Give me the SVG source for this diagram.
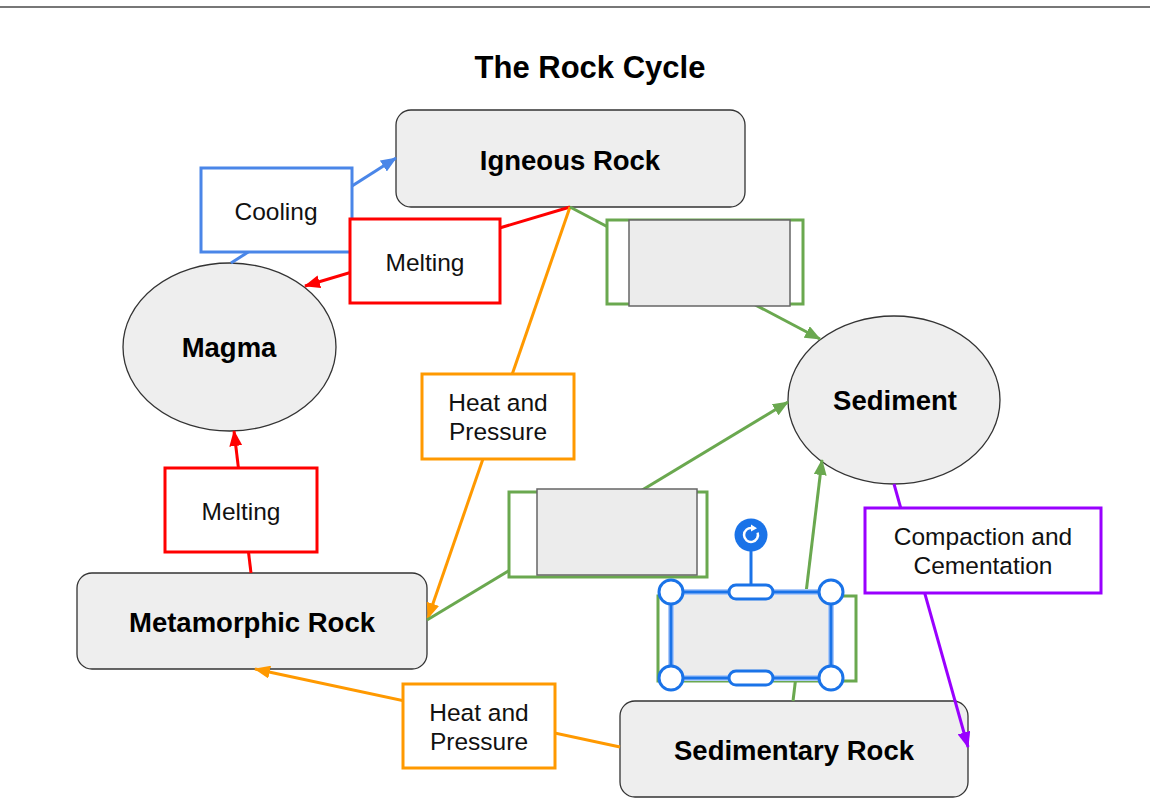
<svg xmlns="http://www.w3.org/2000/svg" width="1150" height="808" viewBox="0 0 1150 808">
<style>
  .node { fill: #eeeeee; stroke: #333333; stroke-width: 1.3; }
  .ntext { font-family: "Liberation Sans", Arial, sans-serif; font-weight: bold; font-size: 27.5px; fill: #000; text-anchor: middle; }
  .ltext { font-family: "Liberation Sans", Arial, sans-serif; font-size: 24.5px; fill: #111; text-anchor: middle; }
  .lbl { fill: #ffffff; stroke-width: 3; }
  .conn { fill: none; stroke-width: 3; }
  .inner { fill: #ececec; stroke: #666666; stroke-width: 1.5; }
  .handle { fill: #ffffff; stroke: #1a73e8; stroke-width: 3; }
</style>
<defs>
  <marker id="aBlue" markerUnits="userSpaceOnUse" markerWidth="16" markerHeight="13" refX="15" refY="6.5" orient="auto"><path d="M0,0 L16,6.5 L0,13 z" fill="#4a86e8"/></marker>
  <marker id="aRed" markerUnits="userSpaceOnUse" markerWidth="16" markerHeight="13" refX="15" refY="6.5" orient="auto"><path d="M0,0 L16,6.5 L0,13 z" fill="#ff0000"/></marker>
  <marker id="aOrange" markerUnits="userSpaceOnUse" markerWidth="16" markerHeight="13" refX="15" refY="6.5" orient="auto"><path d="M0,0 L16,6.5 L0,13 z" fill="#ff9900"/></marker>
  <marker id="aGreen" markerUnits="userSpaceOnUse" markerWidth="16" markerHeight="13" refX="15" refY="6.5" orient="auto"><path d="M0,0 L16,6.5 L0,13 z" fill="#6aa84f"/></marker>
  <marker id="aPurple" markerUnits="userSpaceOnUse" markerWidth="16" markerHeight="13" refX="15" refY="6.5" orient="auto"><path d="M0,0 L16,6.5 L0,13 z" fill="#9900ff"/></marker>
</defs>
<rect x="0" y="0" width="1150" height="808" fill="#ffffff"/>
<rect x="0" y="6" width="1150" height="2" fill="#777777"/>
<text x="590" y="78" font-family="Liberation Sans, Arial, sans-serif" font-weight="bold" font-size="31" text-anchor="middle" fill="#000">The Rock Cycle</text>

<g id="igneous">
  <rect class="node" x="396" y="110" width="349" height="97" rx="15"/>
  <text class="ntext" x="570" y="170">Igneous Rock</text>
</g>
<g id="magma">
  <ellipse class="node" cx="229.5" cy="347" rx="106.5" ry="84"/>
  <text class="ntext" x="229" y="357">Magma</text>
</g>
<g id="sediment">
  <ellipse class="node" cx="894" cy="400" rx="106" ry="84"/>
  <text class="ntext" x="895" y="410">Sediment</text>
</g>
<g id="metamorphic">
  <rect class="node" x="77" y="573" width="350" height="96" rx="15"/>
  <text class="ntext" x="252" y="632">Metamorphic Rock</text>
</g>
<g id="sedimentary">
  <rect class="node" x="620" y="701" width="348" height="96" rx="15"/>
  <text class="ntext" x="794" y="760">Sedimentary Rock</text>
</g>

<g id="connectors">
  <line class="conn" x1="231" y1="263" x2="396" y2="158" stroke="#4a86e8" marker-end="url(#aBlue)"/>
  <line class="conn" x1="570" y1="207" x2="305" y2="286" stroke="#ff0000" marker-end="url(#aRed)"/>
  <line class="conn" x1="570" y1="207" x2="428" y2="618" stroke="#ff9900" marker-end="url(#aOrange)"/>
  <line class="conn" x1="570" y1="207" x2="820" y2="339" stroke="#6aa84f" marker-end="url(#aGreen)"/>
  <line class="conn" x1="427" y1="620" x2="788" y2="402" stroke="#6aa84f" marker-end="url(#aGreen)"/>
  <line class="conn" x1="793" y1="701" x2="822" y2="460" stroke="#6aa84f" marker-end="url(#aGreen)"/>
  <line class="conn" x1="894" y1="484" x2="968" y2="747" stroke="#9900ff" marker-end="url(#aPurple)"/>
  <line class="conn" x1="620" y1="747" x2="255" y2="669" stroke="#ff9900" marker-end="url(#aOrange)"/>
  <line class="conn" x1="251" y1="573" x2="234" y2="431" stroke="#ff0000" marker-end="url(#aRed)"/>
</g>

<g id="label-cooling">
  <rect class="lbl" x="201" y="168" width="151" height="84" stroke="#4a86e8"/>
  <text class="ltext" x="276" y="220">Cooling</text>
</g>
<g id="label-melting-top">
  <rect class="lbl" x="350" y="219" width="150" height="84" stroke="#ff0000"/>
  <text class="ltext" x="425" y="271">Melting</text>
</g>
<g id="label-heat-mid">
  <rect class="lbl" x="422" y="374" width="152" height="85" stroke="#ff9900"/>
  <text class="ltext" x="498" y="411">Heat and</text>
  <text class="ltext" x="498" y="440">Pressure</text>
</g>
<g id="label-melting-bottom">
  <rect class="lbl" x="165" y="468" width="152" height="84" stroke="#ff0000"/>
  <text class="ltext" x="241" y="520">Melting</text>
</g>
<g id="label-heat-bottom">
  <rect class="lbl" x="403" y="684" width="152" height="84" stroke="#ff9900"/>
  <text class="ltext" x="479" y="721">Heat and</text>
  <text class="ltext" x="479" y="750">Pressure</text>
</g>
<g id="label-compaction">
  <rect class="lbl" x="865" y="508" width="236" height="85" stroke="#9900ff"/>
  <text class="ltext" x="983" y="545">Compaction and</text>
  <text class="ltext" x="983" y="574">Cementation</text>
</g>

<g id="label-green-1">
  <rect class="lbl" x="607" y="220" width="196" height="84" stroke="#6aa84f"/>
  <rect class="inner" x="629" y="220" width="161" height="86"/>
</g>
<g id="label-green-2">
  <rect class="lbl" x="509" y="492" width="198" height="85" stroke="#6aa84f"/>
  <rect class="inner" x="537" y="489" width="160" height="86"/>
</g>
<g id="label-green-3">
  <rect class="lbl" x="658" y="596" width="198" height="85" stroke="#6aa84f"/>
  <rect x="671" y="592" width="160" height="86" fill="#ececec" stroke="#aecbfa" stroke-width="6"/>
</g>

<g id="selection">
  <line x1="751" y1="551" x2="751" y2="585" stroke="#1a73e8" stroke-width="3"/>
  <rect x="671" y="592" width="160" height="86" fill="none" stroke="#1a73e8" stroke-width="3"/>
  <circle class="handle" cx="671" cy="592" r="12"/>
  <circle class="handle" cx="831" cy="592" r="12"/>
  <circle class="handle" cx="671" cy="678" r="12"/>
  <circle class="handle" cx="831" cy="678" r="12"/>
  <rect class="handle" x="729" y="585" width="44" height="14" rx="7"/>
  <rect class="handle" x="729" y="671" width="44" height="14" rx="7"/>
  <circle cx="751" cy="535" r="16.5" fill="#1a73e8"/>
  <path d="M757.6,532.6 A7,7 0 1 1 752.2,528.1" fill="none" stroke="#ffffff" stroke-width="2.5"/>
  <path d="M751,524.5 L757,528.3 L751,531.5 z" fill="#ffffff"/>
</g>
</svg>
